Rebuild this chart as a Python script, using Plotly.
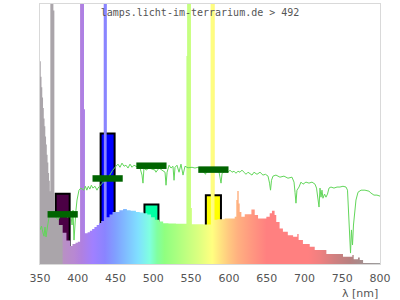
import plotly.graph_objects as go

# ---------------- data ----------------
# lamp spectrum (relative), step bins: value holds from spec_nm[i] to spec_nm[i+1]
spec_nm = [350, 351, 352, 353, 354, 355, 356, 357, 358, 359, 360, 361, 362, 363, 364,
           367.5, 369, 375, 380, 385, 390, 393, 397, 400, 403.3, 408.2, 409.5, 413, 416,
           419, 422, 425, 428, 431, 434.5, 438.2, 442, 446, 449, 455, 460, 465, 470, 477,
           482, 487, 492, 497, 502, 508, 513, 520, 530, 540, 543.8, 545, 549.6, 551, 560,
           566, 570, 576, 581, 585, 590, 594.4, 607.7, 609.8, 611.1, 613, 614.3, 616.5,
           621, 629.8, 634.2, 638.6, 649.6, 654, 657, 660.5, 662.7, 667.1, 671.5, 678,
           685, 690.5, 692.3, 698, 707, 713.6, 729, 751, 763.4, 765.2, 770.9, 773.2,
           777.6, 800]
spec_val = [0.78, 0.72, 0.68, 0.64, 0.60, 0.56, 0.53, 0.49, 0.46, 0.42, 0.39, 0.35, 0.32, 0.28, 1.5,
            0.975, 0.20, 0.15, 0.12, 0.09, 0.069, 0.077, 0.082, 0.086, 1.5, 0.595, 0.118, 0.122, 0.128,
            0.135, 0.142, 0.150, 0.158, 0.165, 1.5, 0.18, 0.19, 0.20, 0.20, 0.207, 0.212, 0.207, 0.205, 0.200,
            0.198, 0.195, 0.19, 0.18, 0.17, 0.163, 0.157, 0.156, 0.155, 0.155, 0.80, 1.5, 0.215, 0.153, 0.153,
            0.152, 0.152, 1.5, 0.17, 0.172, 0.172, 0.175, 0.182, 0.246, 0.281, 0.233, 0.20, 0.182,
            0.191, 0.21, 0.188, 0.175, 0.182, 0.195, 0.205, 0.188, 0.162, 0.137, 0.124, 0.111,
            0.105, 0.115, 0.092, 0.077, 0.066, 0.054, 0.038, 0.028, 0.035, 0.018, 0.025, 0.015,
            0.004, 0.004]

# reference daylight curve (green line)
sun_nm = [350, 352, 354, 355.3, 356.6, 358, 360, 362, 364, 368, 374, 380, 386, 391, 392.4, 393.7,
          395, 396.3, 397.6, 399, 400.3, 401.6, 404, 408, 410, 412, 414, 416, 418, 420, 422.8,
          425.4, 426.8, 432, 440, 446, 450.6, 453.2, 455.9, 458.5, 461.2, 463.8, 466.5, 469.1,
          471.8, 474.4, 477, 482.4, 485, 486.3, 487.6, 490.3, 494.3, 502.2, 503.5, 507.5, 511.5,
          515.5, 516.8, 518.2, 520.8, 523.4, 526, 527.4, 528.7, 531.3, 534, 536.6, 539.3, 541.9,
          545.9, 551.2, 555.1, 559.1, 563.1, 567.1, 569, 571, 576.3, 583, 587, 589.6, 591, 594.9,
          598.8, 601.5, 604.1, 606.8, 609.4, 612, 614.7, 617.3, 620, 622.6, 625.3, 627.9, 630.6,
          633.2, 637.2, 641.2, 645.1, 648.4, 651.8, 653.8, 655.1, 656.4, 658.4, 662.3, 667.6,
          672.9, 678.2, 683.5, 686.2, 687.5, 688.8, 690.1, 692.8, 695.4, 698.1, 702, 706, 710,
          714, 716, 718, 719.3, 720.6, 721.9, 723.2, 724.5, 726.6, 728.5, 730.5, 732.5, 735.1,
          739.1, 743.1, 747, 751, 755, 757, 758.3, 759.6, 761, 762.2, 763.6, 764.9, 766.2, 768.2,
          770.9, 774.9, 780.1, 785.4, 788, 792, 796, 800]
sun_val = [0.131, 0.146, 0.119, 0.107, 0.142, 0.104, 0.146, 0.180, 0.188, 0.19, 0.17, 0.20, 0.18, 0.188,
           0.150, 0.207, 0.092, 0.169, 0.207, 0.246, 0.276, 0.284, 0.292, 0.284, 0.299, 0.284, 0.299,
           0.288, 0.303, 0.292, 0.299, 0.284, 0.292, 0.31, 0.33, 0.36, 0.376, 0.384, 0.372, 0.388,
           0.376, 0.380, 0.369, 0.384, 0.372, 0.380, 0.376, 0.369, 0.342, 0.311, 0.369, 0.361, 0.369,
           0.361, 0.353, 0.369, 0.361, 0.353, 0.303, 0.353, 0.380, 0.369, 0.376, 0.322, 0.372, 0.380,
           0.353, 0.384, 0.342, 0.376, 0.37, 0.372, 0.369, 0.372, 0.361, 0.353, 0.345, 0.361, 0.36,
           0.36, 0.353, 0.311, 0.349, 0.357, 0.353, 0.361, 0.353, 0.357, 0.349, 0.357, 0.353, 0.361,
           0.353, 0.345, 0.353, 0.349, 0.342, 0.353, 0.345, 0.353, 0.342, 0.345, 0.338, 0.311, 0.284,
           0.322, 0.338, 0.342, 0.334, 0.338, 0.330, 0.334, 0.315, 0.276, 0.234, 0.284, 0.296, 0.315,
           0.307, 0.315, 0.311, 0.315, 0.307, 0.292, 0.246, 0.219, 0.292, 0.257, 0.284, 0.253, 0.269,
           0.257, 0.269, 0.292, 0.296, 0.292, 0.296, 0.296, 0.299, 0.296, 0.284, 0.180, 0.092, 0.042,
           0.131, 0.073, 0.150, 0.196, 0.246, 0.276, 0.284, 0.284, 0.280, 0.273, 0.265, 0.265, 0.261]

# band summary bars and reference markers
band_nm = [380, 439.5, 497.5, 579.5]
band_width = [18.5, 18.5, 18.5, 20]
band_val = [0.270, 0.502, 0.229, 0.264]
band_colors = ["#4b0045", "#0000ff", "#00ffa4", "#ffff00"]
ref_val = [0.191, 0.329, 0.378, 0.363]
ref_halfwidth = 20

x_ticks = [350, 400, 450, 500, 550, 600, 650, 700, 750, 800]
title_text = "lamps.licht-im-terrarium.de > 492"
x_label = "λ [nm]"

# ---------------- style ----------------
grad_stops = [
    (350, "#aaa5aa"), (379, "#aaa5aa"), (381, "#b890c4"), (395, "#b888d2"), (405, "#b080e0"),
    (420, "#a080ff"), (436, "#8a84ff"), (450, "#80a0ff"), (465, "#80c0ff"), (480, "#80e0ff"),
    (495, "#80ffe0"), (505, "#80ffa0"), (515, "#90ff80"), (530, "#a8ff80"), (546, "#c4ff80"),
    (560, "#dcff80"), (570, "#f0ff80"), (578, "#ffff80"), (590, "#ffe080"), (600, "#ffc880"),
    (612, "#ffb080"), (630, "#ff9880"), (650, "#ff8080"), (705, "#ff8080"), (720, "#f08080"),
    (740, "#d08080"), (760, "#b88080"), (780, "#a09090"), (800, "#a0a0a0"),
]
X0, X1 = 350, 800
colorscale = [[(nm - X0) / (X1 - X0), c] for nm, c in grad_stops]


def _rgb(h):
    h = h.lstrip("#")
    return tuple(int(h[i:i + 2], 16) for i in (0, 2, 4))


def grad_color(nm):
    for (a, ca), (b, cb) in zip(grad_stops[:-1], grad_stops[1:]):
        if a <= nm <= b:
            t = 0 if b == a else (nm - a) / (b - a)
            ra, rb = _rgb(ca), _rgb(cb)
            r = [round(ra[k] + (rb[k] - ra[k]) * t) for k in range(3)]
            return "rgb(%d,%d,%d)" % tuple(r)
    return grad_stops[-1][1]


fig = go.Figure()

# spectrum fill with horizontal spectral gradient
fig.add_trace(go.Scatter(
    x=spec_nm, y=spec_val, mode="lines", line=dict(width=0, color="rgba(0,0,0,0)", shape="hv"),
    fill="tozeroy", fillgradient=dict(type="horizontal", colorscale=colorscale, start=X0, stop=X1),
    hoverinfo="skip",
))

# daylight reference line
fig.add_trace(go.Scatter(x=sun_nm, y=sun_val, mode="lines",
                         line=dict(color="#62d65a", width=1), hoverinfo="skip"))

# clipped emission lines drawn on top of the daylight line
lx, lw, ly, lc = [], [], [], []
for i in range(len(spec_nm) - 1):
    if spec_val[i] > 1:
        a, b = spec_nm[i], spec_nm[i + 1]
        lx.append((a + b) / 2)
        lw.append(b - a)
        ly.append(spec_val[i])
        lc.append(grad_color((a + b) / 2))
fig.add_trace(go.Bar(x=lx, y=ly, width=lw, marker=dict(color=lc, line=dict(width=0)),
                     hoverinfo="skip"))

# reference markers (dark green)
mx, my = [], []
for c, v in zip(band_nm, ref_val):
    mx += [c - ref_halfwidth, c + ref_halfwidth, None]
    my += [v, v, None]
fig.add_trace(go.Scatter(x=mx, y=my, mode="lines", line=dict(color="#006400", width=6.5),
                         hoverinfo="skip"))

# band bars
fig.add_trace(go.Bar(x=band_nm, y=band_val, width=band_width,
                     marker=dict(color=band_colors, line=dict(color="#000000", width=2)),
                     hoverinfo="skip"))

fig.update_layout(
    width=400, height=300,
    margin=dict(l=40, r=20, t=4, b=36),
    paper_bgcolor="white", plot_bgcolor="white",
    showlegend=False, barmode="overlay",
    title=dict(text=title_text, x=0.5, xref="container", xanchor="center",
               y=1 - 12 / 300, yref="container", yanchor="middle",
               font=dict(family="DejaVu Sans Mono", size=10, color="#555555")),
    xaxis=dict(range=[X0, X1], tickvals=x_ticks, ticktext=[str(t) for t in x_ticks],
               showgrid=False, zeroline=False, showline=True, mirror=True,
               linecolor="#d9d9d9", linewidth=1, ticks="outside", ticklen=4,
               tickcolor="rgba(0,0,0,0)",
               tickfont=dict(family="DejaVu Sans", size=11, color="#555555")),
    yaxis=dict(range=[0, 1], showgrid=False, zeroline=False, showticklabels=False,
               showline=True, mirror=True, linecolor="#d9d9d9", linewidth=1, ticks=""),
    annotations=[dict(text=x_label, xref="paper", yref="paper", x=1, y=-29.5 / 260,
                      xanchor="right", yanchor="middle", showarrow=False,
                      font=dict(family="DejaVu Sans", size=11, color="#555555"))],
)

fig.write_html("out.html")
